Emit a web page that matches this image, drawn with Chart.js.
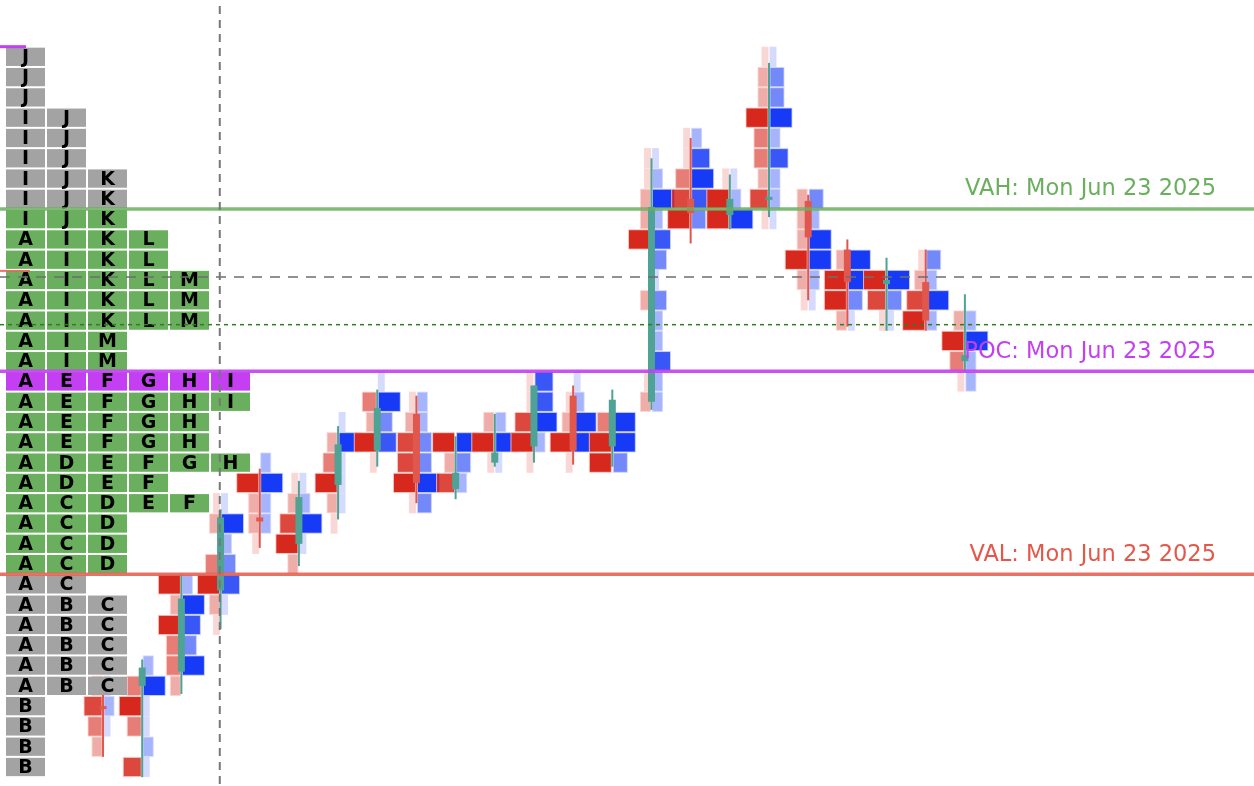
<!DOCTYPE html>
<html><head><meta charset="utf-8">
<script src="https://cdn.jsdelivr.net/npm/chart.js@4/dist/chart.umd.min.js"></script>
<style>html,body{margin:0;padding:0;background:#fff}#w{width:1254px;height:786px}</style>
</head><body><div id="w"><canvas id="c"></canvas></div>
<script>
// ---- Market profile (TPO) rows, level 35 (top) to level 0 (bottom)
const profileTop = 35;
const profileRows = ["J","J","J","IJ","IJ","IJ","IJK","IJK","IJK","AIKL","AIKL","AIKLM","AIKLM","AIKLM","AIM","AIM",
  "AEFGHI","AEFGHI","AEFGH","AEFGH","ADEFGH","ADEF","ACDEF","ACD","ACD","ACD","AC","ABC","ABC","ABC","ABC","ABC","B","B","B","B"];
const valueAreaLow = 10, valueAreaHigh = 27, pocLevel = 19;
const vahLevel = 27.5, pocLine = 19.5, valLevel = 9.5;
const grayDashLevel = 24.15, greenDotLevel = 21.8;
const dividerSlot = 2.98;
const labelVAH = "VAH: Mon Jun 23 2025", labelPOC = "POC: Mon Jun 23 2025", labelVAL = "VAL: Mon Jun 23 2025";
// ---- Footprint candles
const candleLow   = [1,0,4,7,11,10,12,15,13,13,15,15,15,15,18,27,27,27,23,22,22,22,19];
const candleBid   = ["2342","403530","233525","1253021","12250","25421","125320","15230","154421","0425","152","15411","15210","553","2100020052211","54311","551","142335221","125222","2552","145","5421","1352"];
const candleAsk   = ["0121","121152","053452","0143251","02252","01521","011151","04351","353322","0235","152","02544","05521","355","2242231342521","34542","521","122425331","125523","1355","135","2523","2252"];
const candleOpen  = [3.0,4.0,4.7,8.7,12.3,11.0,13.9,15.6,17.4,13.7,15.0,15.8,18.3,15.8,18.0,28.0,27.2,28.0,27.9,25.5,23.8,23.9,20.0];
const candleClose = [2.9,4.9,8.3,12.3,12.1,13.3,15.9,17.7,14.0,14.5,15.5,18.8,15.6,18.1,27.6,27.3,28.0,28.1,26.1,23.9,24.0,22.0,20.3];
const candleHigh  = [4.2,5.3,9.5,12.7,14.7,14.1,16.8,18.6,18.3,16.3,17.4,18.8,18.8,18.6,30.0,31.0,29.2,34.7,28.2,26.0,25.1,25.5,23.3];
const candleLowW  = [0.5,-0.5,3.6,6.8,10.8,9.9,12.2,14.8,13.0,13.2,14.8,15.0,14.9,14.8,17.6,25.8,26.5,27.1,23.0,21.7,21.5,21.5,19.5];

const Y_MIN = -0.936, Y_MAX = 37.8, X_MIN = -2.63, X_MAX = 29.38;
const alphas = [0,0.18,0.38,0.6,0.85,1];

const fp = {
  id:'fp',
  afterDatasetsDraw(chart){
    const ctx = chart.ctx, xs = chart.scales.x, ys = chart.scales.y;
    const X = v=>xs.getPixelForValue(v), Y = v=>ys.getPixelForValue(v);
    const rowH = Y(0)-Y(1), slot = X(1)-X(0);
    const L = chart.chartArea.left, R = chart.chartArea.right;
    ctx.save();
    // candles
    candleLow.forEach((lo,i)=>{
      const cx = X(i);
      const bid = candleBid[i], ask = candleAsk[i];
      for (let k=0;k<bid.length;k++){
        const lvl = lo+k, y0 = Y(lvl+0.5)+0.5, h = rowH-1;
        const b = +bid[k], a = +ask[k];
        ctx.lineWidth = 1;
        if (b>0){ const w = 4*b+2; ctx.fillStyle=`rgba(214,40,28,${alphas[b]})`; ctx.fillRect(cx-1-w,y0,w,h);
          ctx.strokeStyle='rgba(255,210,205,0.8)'; ctx.strokeRect(cx-1-w,y0,w,h); }
        if (a>0){ const w = 4*a+2; ctx.fillStyle=`rgba(22,58,245,${alphas[a]})`; ctx.fillRect(cx+1,y0,w,h);
          ctx.strokeStyle='rgba(210,215,255,0.8)'; ctx.strokeRect(cx+1,y0,w,h); }
      }
      const up = candleClose[i] >= candleOpen[i];
      ctx.fillStyle = up ? '#4ea394' : '#e0584d';
      ctx.fillRect(cx-1, Y(candleHigh[i]), 2, Y(candleLowW[i])-Y(candleHigh[i]));
      const t = Y(Math.max(candleOpen[i],candleClose[i])), b2 = Y(Math.min(candleOpen[i],candleClose[i]));
      ctx.fillRect(cx-3.5, t, 7, Math.max(3,b2-t));
    });
    // profile
    const colW = 1.0467, col0 = X_MIN + 6/slot;
    profileRows.forEach((row,i)=>{
      const lvl = profileTop - i;
      let fill = (lvl>=valueAreaLow && lvl<=valueAreaHigh) ? '#6aaf5e' : '#a3a3a3';
      if (lvl===pocLevel) fill = '#c43ff2';
      for (let c=0;c<row.length;c++){
        const x0 = X(col0 + c*colW), x1 = x0 + 39;
        const y0 = Y(lvl+0.5)+1, y1 = Y(lvl-0.5)-1;
        ctx.fillStyle = fill; ctx.fillRect(x0,y0,x1-x0,y1-y0);
        ctx.fillStyle = '#000'; ctx.font = 'bold 19px "DejaVu Sans"';
        ctx.textAlign='center'; ctx.textBaseline='middle';
        ctx.fillText(row[c], (x0+x1)/2, (y0+y1)/2+1);
      }
    });
    // horizontal reference lines
    const hline=(lvl,color,w,dash,x1)=>{ctx.beginPath();ctx.setLineDash(dash);ctx.strokeStyle=color;ctx.lineWidth=w;
      ctx.moveTo(L,Y(lvl));ctx.lineTo(x1===undefined?R:x1,Y(lvl));ctx.stroke();ctx.setLineDash([]);};
    hline(grayDashLevel,'#6e6e6e',1.5,[10,8]);
    hline(greenDotLevel,'#2e7d1e',1.5,[4,4]);
    hline(vahLevel,'rgba(106,175,94,0.85)',3.5,[]);
    hline(valLevel,'rgba(228,100,85,0.9)',3.5,[]);
    hline(pocLine,'rgba(196,63,242,0.9)',3.5,[]);
    hline(35.5,'#c43ff2',3,[],L+26);
    hline(24.45,'rgba(228,100,85,0.9)',2,[],L+30);
    // vertical divider
    ctx.beginPath();ctx.setLineDash([8,6]);ctx.strokeStyle='#777';ctx.lineWidth=2;
    ctx.moveTo(X(dividerSlot),chart.chartArea.top+6);ctx.lineTo(X(dividerSlot),chart.chartArea.bottom);ctx.stroke();ctx.setLineDash([]);
    // labels
    ctx.font='22.5px "DejaVu Sans"';ctx.textAlign='right';ctx.textBaseline='middle';
    ctx.fillStyle='#6aaf5e';ctx.fillText(labelVAH,R-38,Y(vahLevel)-20);
    ctx.fillStyle='#c43ff2';ctx.fillText(labelPOC,R-38,Y(pocLine)-19);
    ctx.fillStyle='#e4574a';ctx.fillText(labelVAL,R-38,Y(valLevel)-19);
    ctx.restore();
  }
};

new Chart(document.getElementById('c'),{
  type:'scatter',
  data:{datasets:[{data:candleClose.map((v,i)=>({x:i,y:v})),pointRadius:0,showLine:false}]},
  options:{responsive:true,maintainAspectRatio:false,animation:false,
    layout:{padding:0},
    plugins:{legend:{display:false},tooltip:{enabled:false}},
    scales:{x:{type:'linear',min:X_MIN,max:X_MAX,display:false},y:{type:'linear',min:Y_MIN,max:Y_MAX,display:false}}},
  plugins:[fp]
});
</script></body></html>
